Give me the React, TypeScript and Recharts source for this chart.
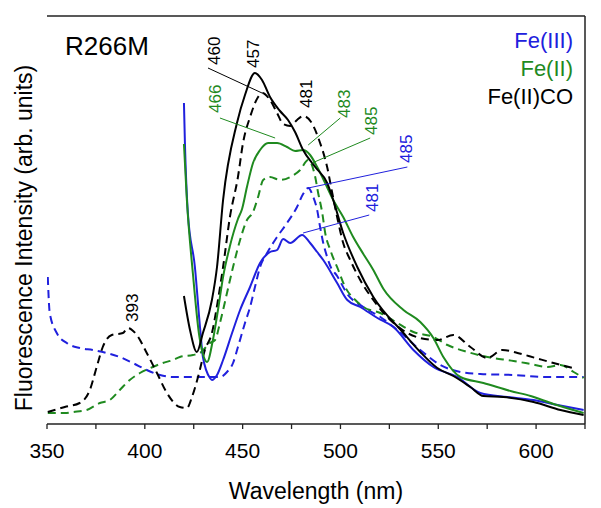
import { LineChart, Line, XAxis, YAxis, ReferenceLine, ReferenceDot } from 'recharts';

const BLUE = '#2020dd';
const GREEN = '#1f8a1f';
const BLACK = '#000000';
const FONT = '"Liberation Sans", Arial, Helvetica, sans-serif';

// wavelength (nm) / intensity (arb. units)
const fe3SolidNm = [420.0, 420.5, 422.0, 425.6, 428.2, 429.7, 433.3, 434.3, 436.9, 440.0, 444.6, 448.7, 453.8, 458.9, 464.0, 467.6, 470.7, 474.3, 480.4, 484.5, 488.1, 491.2, 498.3, 503.5, 510.1, 518.9, 527.1, 537.3, 547.5, 559.8, 571.5, 585.4, 598.7, 611.0, 624.3];
const fe3SolidI = [321, 281, 211, 157, 97, 67, 46, 44, 49, 64, 91, 114, 137, 161, 172, 174, 185, 181, 189, 181, 172, 164, 141, 124, 117, 106, 97, 74, 57, 47, 31, 27, 24, 19, 14];

const fe3DashNm = [350.4, 351.4, 355.0, 360.1, 366.7, 373.4, 380.6, 387.2, 393.9, 401.0, 407.7, 414.4, 423.1, 433.3, 438.4, 442.0, 445.1, 447.6, 451.2, 453.8, 456.3, 458.9, 462.5, 467.6, 472.7, 477.8, 480.9, 483.5, 486.1, 488.1, 489.6, 491.2, 493.2, 494.8, 498.3, 503.5, 511.7, 520.4, 529.1, 540.8, 551.1, 561.3, 571.5, 588.5, 605.8, 624.3];
const fe3DashI = [147, 111, 91, 81, 76, 74, 71, 67, 61, 54, 49, 47, 47, 47, 47, 52, 61, 77, 101, 117, 137, 157, 171, 187, 201, 217, 230, 236, 227, 214, 197, 181, 167, 158, 148, 130, 117, 107, 94, 74, 59, 52, 50, 49, 47, 47];

const fe2SolidNm = [420.0, 421.5, 424.6, 427.7, 429.7, 431.8, 434.8, 437.4, 440.0, 443.5, 447.6, 449.7, 452.2, 455.3, 458.9, 463.0, 467.6, 472.7, 476.8, 480.9, 484.5, 488.1, 491.2, 496.3, 501.4, 506.5, 511.7, 516.8, 522.0, 532.2, 540.8, 547.5, 552.6, 561.3, 573.1, 586.9, 597.2, 608.9, 624.3];
const fe2SolidI = [280, 224, 150, 90, 70, 62, 84, 114, 147, 178, 205, 215, 237, 261, 274, 281, 281, 277, 273, 274, 269, 257, 245, 224, 207, 187, 170, 154, 135, 114, 102, 86, 67, 47, 41, 33, 28, 20, 11];

const fe2DashNm = [350.4, 359.1, 363.2, 370.3, 377.0, 382.1, 387.2, 392.3, 397.5, 404.1, 409.2, 414.4, 417.9, 424.6, 428.2, 433.3, 435.9, 438.4, 442.0, 445.1, 448.7, 452.2, 455.3, 457.9, 460.5, 464.0, 469.1, 474.3, 479.4, 483.5, 487.1, 488.6, 490.7, 492.2, 494.8, 498.9, 502.4, 507.6, 511.7, 520.4, 529.1, 537.3, 547.5, 554.7, 564.9, 575.1, 588.5, 597.2, 605.8, 612.5, 619.2, 624.3];
const fe2DashI = [11, 11, 12, 14, 21, 24, 34, 44, 51, 57, 61, 64, 67, 69, 71, 81, 84, 101, 131, 157, 184, 204, 212, 227, 244, 247, 244, 247, 254, 264, 247, 231, 211, 191, 174, 154, 137, 124, 117, 111, 101, 92, 87, 79, 72, 67, 63, 60, 57, 59, 52, 46];

const coSolidNm = [420.0, 423.1, 426.6, 429.7, 434.3, 436.9, 440.0, 447.1, 451.2, 456.3, 459.9, 464.0, 469.1, 473.2, 476.8, 480.9, 487.1, 493.2, 496.3, 501.4, 508.6, 516.8, 532.2, 540.8, 549.5, 557.7, 566.4, 573.1, 583.3, 598.7, 612.5, 624.3];
const coSolidI = [128, 94, 72, 91, 124, 157, 224, 301, 329, 351, 344, 327, 313, 304, 292, 274, 257, 241, 224, 191, 157, 127, 91, 72, 56, 48, 37, 28, 27, 22, 14, 9];

const coDashNm = [350.4, 359.1, 366.7, 371.9, 375.4, 378.5, 383.1, 388.8, 391.3, 395.9, 401.0, 406.2, 411.3, 417.9, 421.5, 424.1, 427.2, 430.7, 434.3, 437.4, 440.0, 443.5, 447.6, 450.2, 453.8, 457.9, 460.0, 464.0, 467.6, 470.7, 474.3, 477.8, 480.9, 485.0, 489.6, 493.2, 495.8, 498.3, 501.4, 505.0, 510.1, 516.8, 525.5, 534.2, 540.8, 549.5, 557.7, 566.4, 575.1, 582.8, 590.5, 599.7, 608.9, 618.7];
const coDashI = [12, 17, 21, 34, 57, 77, 89, 91, 96, 89, 71, 51, 31, 17, 16, 27, 47, 74, 91, 124, 157, 207, 247, 281, 307, 327, 331, 324, 311, 300, 298, 304, 308, 302, 281, 257, 231, 207, 181, 164, 144, 124, 104, 91, 86, 84, 89, 77, 66, 74, 71, 66, 61, 56];

const xTicks = [350, 375, 400, 425, 450, 475, 500, 525, 550, 575, 600, 625];

// peak labels: text anchor (x, y) and leader line (x1,y1)-(x2,y2)
const peakText = ['460', '457', '481', '466', '483', '485', '485', '481', '393'];
const peakColor = [BLACK, BLACK, BLACK, GREEN, GREEN, GREEN, BLUE, BLUE, BLACK];
const peakX = [435.6, 455.6, 482.7, 436.1, 502.2, 515.7, 533.7, 516.5, 393.6];
const peakY = [359, 356, 316, 311, 306, 289, 261, 212, 102];
const leader = [
  [432.3, 356, 459.9, 331],
  null,
  null,
  [438.4, 306, 466.6, 286],
  [499.9, 306, 483.5, 279],
  [515.2, 286, 485.5, 261],
  [534.2, 257, 483.5, 236],
  [514.7, 209, 480.9, 191],
  null,
];

const zip = (xs: number[], ys: number[]) => xs.map((x, i) => ({ x, y: ys[i] }));

const series = [
  { key: 'fe3Dash', data: zip(fe3DashNm, fe3DashI), color: BLUE, dash: '8 5' },
  { key: 'fe2Dash', data: zip(fe2DashNm, fe2DashI), color: GREEN, dash: '8 5' },
  { key: 'coDash', data: zip(coDashNm, coDashI), color: BLACK, dash: '8 5' },
  { key: 'fe3Solid', data: zip(fe3SolidNm, fe3SolidI), color: BLUE, dash: undefined },
  { key: 'fe2Solid', data: zip(fe2SolidNm, fe2SolidI), color: GREEN, dash: undefined },
  { key: 'coSolid', data: zip(coSolidNm, coSolidI), color: BLACK, dash: undefined },
];

const XTick = ({ x, y, payload }: any) => {
  if (payload.value % 50 !== 0) return null;
  return (
    <text x={x} y={y} dy={27} textAnchor="middle" fontSize={21} fontFamily={FONT} fill="#000">
      {payload.value}
    </text>
  );
};

// free text: axis titles, sample name, legend
const Texts = ({ viewBox }: any) => {
  const { x, y, width } = viewBox;
  return (
    <g fontFamily={FONT}>
      <text x={x + width / 2} y={y + 75} textAnchor="middle" fontSize={23} fill="#000">Wavelength (nm)</text>
      <text x={32} y={238} transform="rotate(-90, 32, 238)" textAnchor="middle" fontSize={23} fill="#000">
        Fluorescence Intensity (arb. units)
      </text>
      <text x={65} y={55} fontSize={26} fill="#000">R266M</text>
      <text x={573} y={48} textAnchor="end" fontSize={22} fill={BLUE}>Fe(III)</text>
      <text x={573} y={76} textAnchor="end" fontSize={22} fill={GREEN}>Fe(II)</text>
      <text x={573} y={104} textAnchor="end" fontSize={22} fill={BLACK}>Fe(II)CO</text>
    </g>
  );
};

export default function App() {
  return (
    <div style={{ position: 'absolute', left: 0, top: 0, background: '#fff' }}>
      <LineChart width={601} height={508} margin={{ top: 16, right: 16, bottom: 0, left: 47 }}>
        <XAxis
          dataKey="x"
          type="number"
          domain={[350, 625]}
          ticks={xTicks}
          allowDataOverflow
          height={84}
          tickSize={5}
          tickMargin={2}
          tick={<XTick />}
          axisLine={{ stroke: '#222', strokeWidth: 1.5 }}
          tickLine={{ stroke: '#222', strokeWidth: 1.3 }}
          label={{ content: <Texts /> }}
        />
        <YAxis
          type="number"
          domain={[0, 408]}
          allowDataOverflow
          width={0}
          tick={false}
          tickLine={false}
          axisLine={{ stroke: '#222', strokeWidth: 1.5 }}
        />
        <ReferenceLine y={408} stroke="#222" strokeWidth={1.5} />
        <ReferenceLine x={625} stroke="#222" strokeWidth={1.5} />
        {series.map((s) => (
          <Line
            key={s.key}
            data={s.data}
            dataKey="y"
            type="monotone"
            stroke={s.color}
            strokeWidth={2}
            strokeDasharray={s.dash}
            dot={false}
            activeDot={false}
            isAnimationActive={false}
          />
        ))}
        {leader.map((l, i) =>
          l ? (
            <ReferenceLine
              key={`ld-${i}`}
              segment={[{ x: l[0], y: l[1] }, { x: l[2], y: l[3] }]}
              stroke={peakColor[i]}
              strokeWidth={1}
            />
          ) : null
        )}
        {peakText.map((t, i) => (
          <ReferenceDot
            key={`pk-${i}`}
            x={peakX[i]}
            y={peakY[i]}
            r={0}
            shape={(p: any) => (
              <text
                x={p.cx}
                y={p.cy}
                transform={`rotate(-90, ${p.cx}, ${p.cy})`}
                dominantBaseline="central"
                fontSize={17}
                fontFamily={FONT}
                fill={peakColor[i]}
              >
                {t}
              </text>
            )}
          />
        ))}
      </LineChart>
    </div>
  );
}
